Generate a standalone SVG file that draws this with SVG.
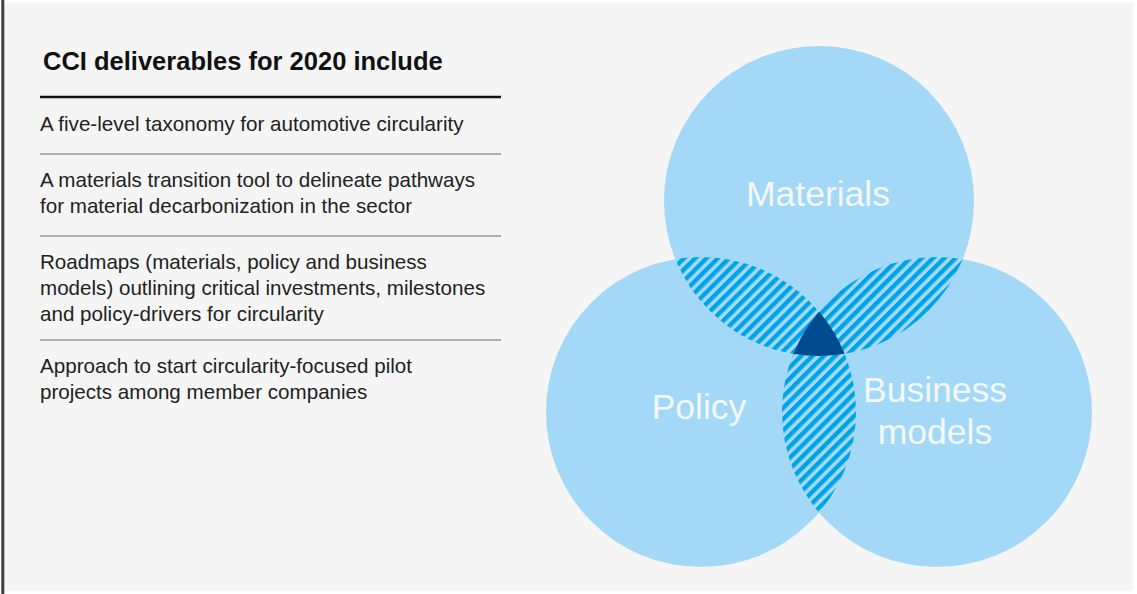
<svg xmlns="http://www.w3.org/2000/svg" width="1137" height="594" viewBox="0 0 1137 594">
  <style>
    .title { font-family: "Liberation Sans", Arial, sans-serif; font-size: 25.5px; font-weight: bold; fill: #111111; }
    .item { font-family: "Liberation Sans", Arial, sans-serif; font-size: 20.6px; fill: #222222; }
    .label { font-family: "Liberation Sans", Arial, sans-serif; font-size: 35.5px; fill: #f4f8fb; text-anchor: middle; }
    .sep { stroke: #6a6a6a; stroke-width: 1.2; }
    .circ { fill: #a3d9f6; }
  </style>
  <defs>
    <pattern id="hatch" patternUnits="userSpaceOnUse" width="8" height="8" patternTransform="rotate(45)">
      <rect x="0" y="0" width="8" height="8" fill="#a3d9f6"/>
      <rect x="0" y="0" width="4.4" height="8" fill="#00a3e4"/>
    </pattern>
    <clipPath id="clipM"><circle cx="819" cy="201" r="155"/></clipPath>
    <clipPath id="clipP"><circle cx="701" cy="412" r="155"/></clipPath>
    <clipPath id="clipB"><circle cx="937" cy="412" r="155"/></clipPath>
    <clipPath id="clipMP" clip-path="url(#clipM)"><circle cx="701" cy="412" r="155"/></clipPath>
  </defs>

  <!-- background -->
  <rect x="0" y="0" width="1137" height="594" fill="#ffffff"/>
  <rect x="4" y="3" width="1129" height="588" fill="#f5f5f5"/>
  <rect x="1.3" y="0" width="3" height="594" fill="#3f3f3f"/>

  <!-- left panel -->
  <g id="panel">
    <text class="title" x="43" y="70">CCI deliverables for 2020 include</text>
    <line x1="40" y1="97" x2="501" y2="97" stroke="#111111" stroke-width="2.6"/>
    <g id="item1">
      <text class="item" x="40" y="131">A five-level taxonomy for automotive circularity</text>
    </g>
    <line class="sep" x1="40" y1="154" x2="501" y2="154"/>
    <g id="item2">
      <text class="item" x="40" y="187">A materials transition tool to delineate pathways</text>
      <text class="item" x="40" y="213">for material decarbonization in the sector</text>
    </g>
    <line class="sep" x1="40" y1="236" x2="501" y2="236"/>
    <g id="item3">
      <text class="item" x="40" y="269">Roadmaps (materials, policy and business</text>
      <text class="item" x="40" y="295">models) outlining critical investments, milestones</text>
      <text class="item" x="40" y="321">and policy-drivers for circularity</text>
    </g>
    <line class="sep" x1="40" y1="340" x2="501" y2="340"/>
    <g id="item4">
      <text class="item" x="40" y="373">Approach to start circularity-focused pilot</text>
      <text class="item" x="40" y="399">projects among member companies</text>
    </g>
  </g>

  <!-- Venn circles -->
  <g id="materials">
    <circle class="circ" cx="819" cy="201" r="155"/>
  </g>
  <g id="policy">
    <circle class="circ" cx="701" cy="412" r="155"/>
  </g>
  <g id="business">
    <circle class="circ" cx="937" cy="412" r="155"/>
  </g>

  <!-- overlaps -->
  <g id="overlaps">
    <circle cx="819" cy="201" r="155" fill="url(#hatch)" clip-path="url(#clipP)"/>
    <circle cx="819" cy="201" r="155" fill="url(#hatch)" clip-path="url(#clipB)"/>
    <circle cx="701" cy="412" r="155" fill="url(#hatch)" clip-path="url(#clipB)"/>
    <circle id="core" cx="937" cy="412" r="155" fill="#004a8e" clip-path="url(#clipMP)"/>
  </g>

  <!-- labels -->
  <g id="labels">
    <text class="label" x="818" y="206">Materials</text>
    <text class="label" x="699" y="419">Policy</text>
    <text class="label" x="935" y="402">Business</text>
    <text class="label" x="935" y="444">models</text>
  </g>
</svg>
